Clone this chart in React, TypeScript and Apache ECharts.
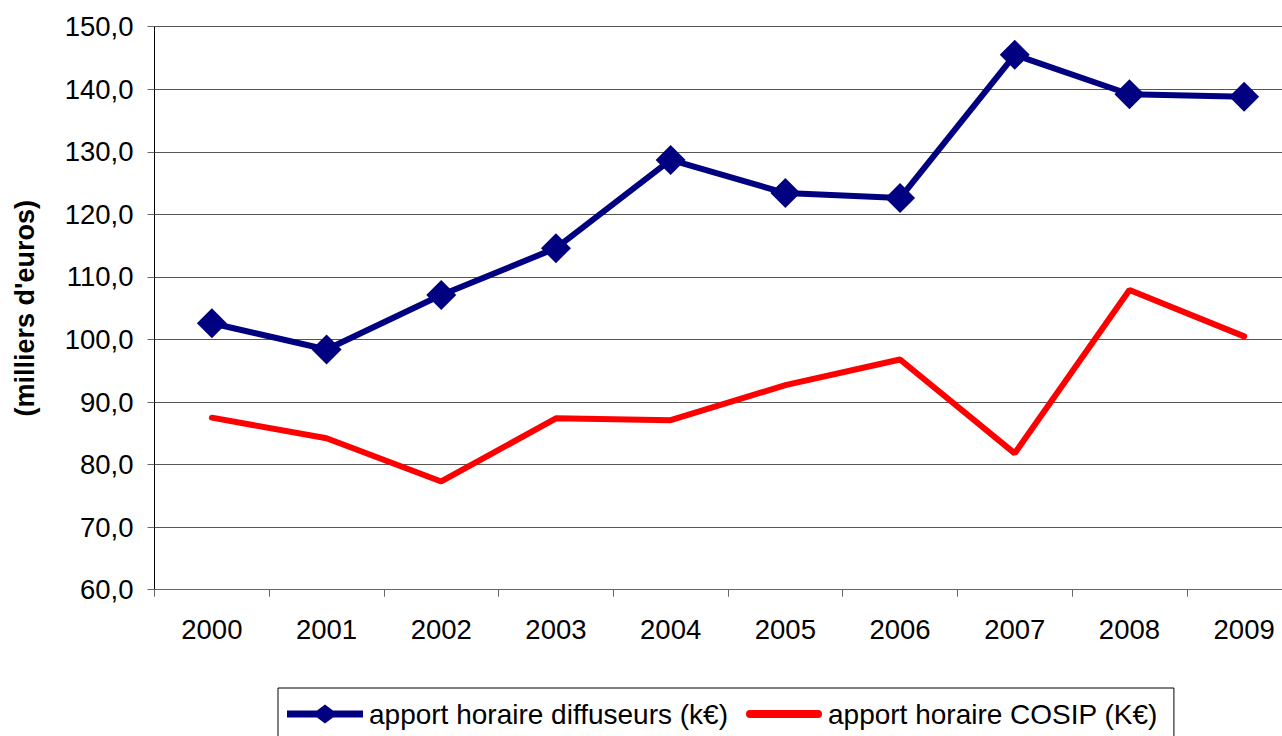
import React, { useEffect, useRef } from "react";
import * as echarts from "echarts";

const years = ["2000", "2001", "2002", "2003", "2004", "2005", "2006", "2007", "2008", "2009"];
const diffuseurs = [102.6, 98.4, 107.1, 114.6, 128.7, 123.4, 122.6, 145.5, 139.2, 138.8];
const cosip = [87.5, 84.2, 77.3, 87.4, 87.1, 92.7, 96.8, 81.8, 107.9, 100.5];
const seriesNames = ["apport horaire diffuseurs (k€)", "apport horaire COSIP (K€)"];
const yTitle = "(milliers d'euros)";

const blueIcon = "path://M0,6 L30,6 L38,0 L46,6 L76,6 L76,13 L46,13 L38,19 L30,13 L0,13 Z";
const redIcon =
  "path://M0,0 L0,0 M76,19 L76,19 M4,5.5 L72,5.5 A4,4 0 0 1 72,13.5 L4,13.5 A4,4 0 0 1 4,5.5 Z";

export default function App() {
  const ref = useRef<HTMLDivElement>(null);
  useEffect(() => {
    if (!ref.current) return;
    const chart = echarts.init(ref.current, null, { renderer: "svg" });
    const font = "Liberation Sans, Arial, sans-serif";
    chart.setOption({
      animation: false,
      backgroundColor: "#ffffff",
      textStyle: { fontFamily: font },
      grid: { left: 154.5, top: 26.7, width: 1147, height: 563 },
      legend: {
        left: 278,
        top: 688,
        padding: [12, 16, 14, 9],
        borderColor: "#000",
        borderWidth: 1,
        itemWidth: 76,
        itemHeight: 19,
        itemGap: 18,
        itemStyle: { borderWidth: 0 },
        textStyle: { fontFamily: font, fontSize: 28, color: "#000", padding: [0, 0, 0, 1] },
        data: [
          { name: seriesNames[0], icon: blueIcon },
          { name: seriesNames[1], icon: redIcon },
        ],
      },
      xAxis: {
        type: "category",
        data: years,
        boundaryGap: true,
        axisLine: { lineStyle: { color: "#666", width: 1 } },
        axisTick: { show: true, length: 7, lineStyle: { color: "#666" } },
        axisLabel: { fontSize: 27.5, color: "#000", margin: 26, fontFamily: font },
      },
      yAxis: {
        type: "value",
        min: 60,
        max: 150,
        interval: 10,
        name: yTitle,
        nameLocation: "middle",
        nameGap: 116,
        nameRotate: 90,
        nameTextStyle: { fontSize: 27, fontWeight: "bold", color: "#000", fontFamily: font },
        axisLine: { show: true, lineStyle: { color: "#000", width: 1 } },
        axisTick: { show: true, length: 7, lineStyle: { color: "#666" } },
        axisLabel: {
          fontSize: 27.5,
          color: "#000",
          margin: 21,
          fontFamily: font,
          formatter: (v: number) => v.toFixed(1).replace(".", ","),
        },
        splitLine: { show: true, lineStyle: { color: "#555", width: 1 } },
      },
      series: [
        {
          name: seriesNames[0],
          type: "line",
          data: diffuseurs,
          symbol: "diamond",
          symbolSize: 30,
          itemStyle: { color: "#000080" },
          lineStyle: { color: "#000080", width: 6 },
          z: 3,
        },
        {
          name: seriesNames[1],
          type: "line",
          data: cosip,
          symbol: "none",
          itemStyle: { color: "#ff0000" },
          lineStyle: { color: "#ff0000", width: 6, cap: "round" },
          z: 2,
        },
      ],
    });
    return () => chart.dispose();
  }, []);
  return (
    <div style={{ position: "fixed", left: 0, top: 0, width: 1282, height: 736, overflow: "hidden" }}>
      <div ref={ref} style={{ width: 1302, height: 736 }} />
    </div>
  );
}
